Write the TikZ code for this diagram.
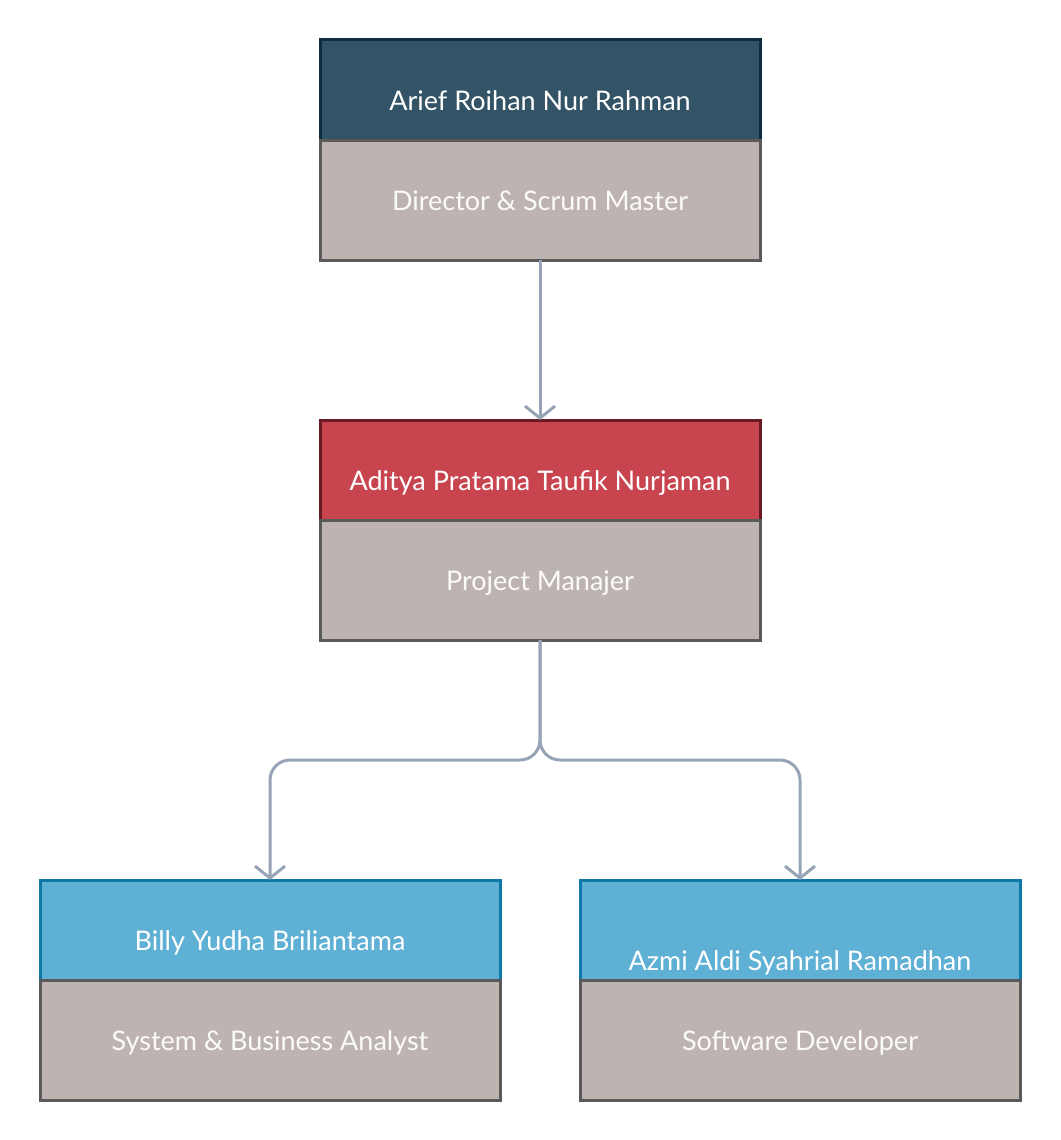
\documentclass[tikz,border=0pt]{standalone}
\usepackage{fontspec}
\setmainfont{Lato}
\usetikzlibrary{arrows.meta, positioning}

\definecolor{navyhead}{HTML}{335466}
\definecolor{navyline}{HTML}{0E2E40}
\definecolor{redhead}{HTML}{C8454F}
\definecolor{redline}{HTML}{6A1A22}
\definecolor{bluehead}{HTML}{5FB0D5}
\definecolor{blueline}{HTML}{0F78A8}
\definecolor{rolefill}{HTML}{BDB4B2}
\definecolor{roleline}{HTML}{5A5A5A}
\definecolor{wire}{HTML}{97A3B6}

\tikzset{
  namebox/.style={draw, line width=3pt, minimum width=440pt, minimum height=100pt,
    inner sep=0pt, outer sep=0pt, text=white, text height=40pt, text depth=0pt,
    font=\fontsize{27}{32}\selectfont},
  rolebox/.style={draw=roleline, fill=rolefill, line width=3pt, minimum width=440pt,
    minimum height=120pt, inner sep=0pt, outer sep=0pt, text=white!95!rolefill,
    text height=20pt, text depth=0pt, font=\fontsize{27}{32}\selectfont},
  wireline/.style={draw=wire, line width=3pt, rounded corners=20pt,
    -{Straight Barb[length=12pt, width=30pt, line width=3pt]}},
}

\begin{document}
\begin{tikzpicture}[x=1pt, y=-1pt]
  \useasboundingbox (0,0) rectangle (1060,1140);

  % director
  \node[namebox, fill=navyhead, draw=navyline] (arief) at (540,90) {Arief Roihan Nur Rahman};
  \node[rolebox, below=0pt of arief] (ariefrole) {Director \& Scrum Master};

  % project manager
  \node[namebox, fill=redhead, draw=redline] (aditya) at (540,470) {Aditya Pratama Taufik Nurjaman};
  \node[rolebox, below=0pt of aditya] (adityarole) {Project Manajer};

  % team
  \node[namebox, fill=bluehead, draw=blueline, minimum width=460pt] (billy) at (270,930) {Billy Yudha Briliantama};
  \node[rolebox, minimum width=460pt, below=0pt of billy] (billyrole) {System \& Business Analyst};

  \node[namebox, fill=bluehead, draw=blueline, text height=80pt] (azmi) at (800,930) {Azmi Aldi Syahrial Ramadhan};
  \node[rolebox, below=0pt of azmi] (azmirole) {Software Developer};

  % connectors
  \coordinate (split) at (540,760);
  \draw[wireline, rounded corners=0pt] (ariefrole.south) -- (aditya.north);
  \draw[wireline] (adityarole.south) -- (split) -| (billy.north);
  \draw[wireline] (adityarole.south) -- (split) -| (azmi.north);
\end{tikzpicture}
\end{document}
